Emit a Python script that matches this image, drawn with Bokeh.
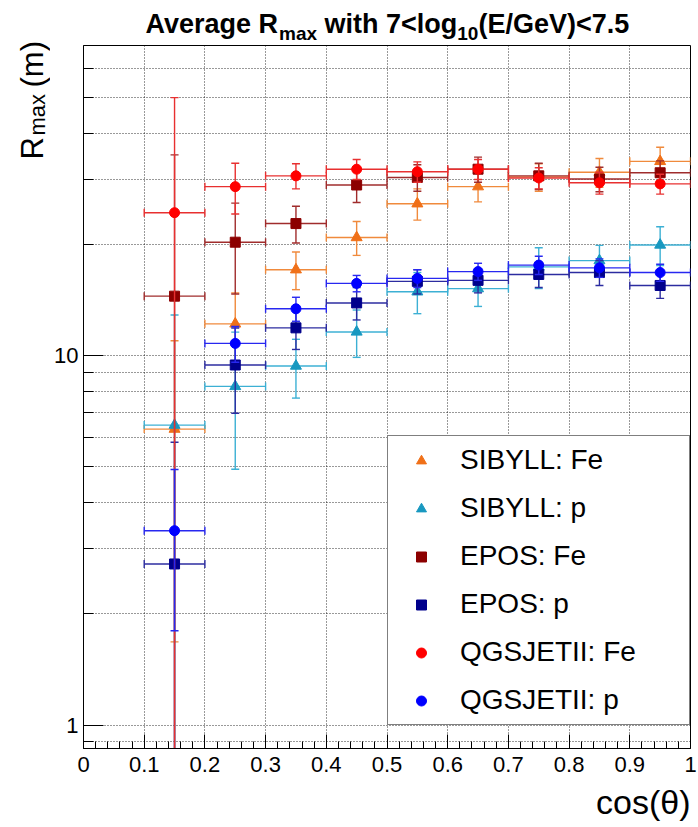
import math
import numpy as np
from bokeh.plotting import figure
from bokeh.models import ColumnDataSource, Range1d, FixedTicker, Legend, LegendItem, Label
from bokeh.layouts import column, row
from bokeh.embed import file_html
from bokeh.resources import INLINE

# ---------------- data ----------------
bin_lo = [0.1, 0.2, 0.3, 0.4, 0.5, 0.6, 0.7, 0.8, 0.9]
bin_hi = [0.2, 0.3, 0.4, 0.5, 0.6, 0.7, 0.8, 0.9, 1.0]
cos_theta = [0.15, 0.25, 0.35, 0.45, 0.55, 0.65, 0.75, 0.85, 0.95]

sibyll_fe = [6.33, 12.2, 17.1, 20.9, 25.8, 28.7, 30.5, 31.4, 33.6]
sibyll_fe_err = [4.65, 2.6, 2.0, 2.2, 2.5, 2.6, 2.6, 2.8, 3.1]

sibyll_p = [6.49, 8.26, 9.38, 11.6, 14.9, 15.2, 17.4, 18.1, 19.95]
sibyll_p_err = [6.4, 3.33, 1.7, 1.7, 1.9, 1.6, 2.2, 1.8, 2.4]

epos_fe = [14.5, 20.3, 22.8, 29.0, 30.4, 32.0, 30.7, 30.1, 31.3]
epos_fe_err = [20.5, 5.6, 2.6, 3.0, 2.5, 2.5, 2.5, 2.3, 2.4]

epos_p = [2.73, 9.44, 11.9, 13.9, 15.9, 16.0, 16.6, 16.8, 15.5]
epos_p_err = [3.1, 2.45, 1.5, 1.4, 1.2, 1.2, 1.3, 1.3, 1.2]

qgsjet_fe = [24.4, 28.7, 30.7, 32.0, 31.5, 32.0, 30.3, 29.4, 29.2]
qgsjet_fe_err = [25.6, 4.5, 2.4, 2.0, 2.0, 2.0, 2.0, 2.0, 1.8]

qgsjet_p = [3.36, 10.8, 13.4, 15.7, 16.2, 16.9, 17.6, 17.3, 16.8]
qgsjet_p_err = [1.56, 1.2, 1.0, 0.8, 0.9, 0.9, 1.0, 1.0, 0.9]

series_names = ["SIBYLL: Fe", "SIBYLL: p", "EPOS: Fe", "EPOS: p", "QGSJETII: Fe", "QGSJETII: p"]

x_tick_values = [0.0, 0.1, 0.2, 0.3, 0.4, 0.5, 0.6, 0.7, 0.8, 0.9, 1.0]
x_tick_labels = ["0", "0.1", "0.2", "0.3", "0.4", "0.5", "0.6", "0.7", "0.8", "0.9", "1"]
y_tick_values = [1, 10]
y_tick_labels = ["1", "10"]
y_minor_values = [0.9, 2, 3, 4, 5, 6, 7, 8, 9, 20, 30, 40, 50, 60]

# ---------------- styles ----------------
series = [
    (series_names[0], sibyll_fe, sibyll_fe_err, "triangle", 11, "#f07018", "#f08a3c"),
    (series_names[1], sibyll_p, sibyll_p_err, "triangle", 11, "#1898c0", "#3cb0d4"),
    (series_names[2], epos_fe, epos_fe_err, "square", 10, "#8c0000", "#a02c2c"),
    (series_names[3], epos_p, epos_p_err, "square", 10, "#00008c", "#2c2ca0"),
    (series_names[4], qgsjet_fe, qgsjet_fe_err, "circle", 10, "#ff0000", "#e83030"),
    (series_names[5], qgsjet_p, qgsjet_p_err, "circle", 10, "#0000ff", "#2828f0"),
]

FONT = "Liberation Sans"
W, H = 698, 827
LEFT_W = 50         # y-label strip (full height)
TOP_H = 45          # title strip
MID_H = 736         # main plot (frame 703 + bottom axis 33)
BOT_H = H - TOP_H - MID_H
RW = W - LEFT_W


def dy(fs):
    # empirical baseline correction of Label text (text-frame "down" shift)
    return round(0.31 * fs)


def text_panel(w, h):
    f = figure(width=w, height=h, output_backend="svg", toolbar_location=None,
               x_range=Range1d(0, w), y_range=Range1d(0, h), title=None,
               x_axis_location=None, y_axis_location=None, min_border=0, frame_align=False)
    f.grid.visible = False
    f.outline_line_color = None
    f.background_fill_color = "white"
    f.border_fill_color = "white"
    return f


# ---------------- main plot ----------------
p = figure(width=RW, height=MID_H, output_backend="svg", toolbar_location=None,
           y_axis_type="log", x_range=Range1d(0, 1), y_range=Range1d(0.864, 69.2), title=None,
           min_border_left=33, min_border_right=8, min_border_top=0, min_border_bottom=33,
           frame_align=False)
p.background_fill_color = "white"
p.border_fill_color = "white"
p.outline_line_color = "black"
p.outline_line_width = 1

for g in (p.xgrid, p.ygrid):
    g.grid_line_color = "black"
    g.grid_line_dash = "1 2"
    g.grid_line_alpha = 0.8
    g.grid_line_width = 1
p.ygrid.minor_grid_line_color = "black"
p.ygrid.minor_grid_line_dash = "1 2"
p.ygrid.minor_grid_line_alpha = 0.8

p.xaxis.ticker = FixedTicker(ticks=x_tick_values,
                             minor_ticks=[round(i * 0.02, 2) for i in range(51) if i % 5])
p.xaxis.major_label_overrides = dict(zip(x_tick_values, x_tick_labels))
p.yaxis.ticker = FixedTicker(ticks=y_tick_values, minor_ticks=y_minor_values)
p.yaxis.major_label_overrides = dict(zip(y_tick_values, y_tick_labels))
for ax in (p.xaxis, p.yaxis):
    ax.axis_line_color = "black"
    ax.major_tick_line_color = "black"
    ax.minor_tick_line_color = "black"
    ax.major_tick_out = 0
    ax.minor_tick_out = 0
    ax.major_label_text_font = FONT
    ax.major_label_text_font_size = "22px"
    ax.major_label_text_color = "black"
p.xaxis.major_tick_in = 14
p.xaxis.minor_tick_in = 7
p.yaxis.major_tick_in = 20
p.yaxis.minor_tick_in = 10
p.xaxis.major_label_standoff = 8
p.yaxis.major_label_standoff = 5

items = []
for name, vals, errs, marker, msize, color, bar in series:
    v = np.array(vals, dtype=float)
    e = np.array(errs, dtype=float)
    lo = np.where(v - e > 0, v - e, 1e-3)
    hi = v + e
    src = ColumnDataSource(dict(x=cos_theta, xl=bin_lo, xh=bin_hi, y=v, yl=lo, yh=hi))
    p.segment(x0="xl", x1="xh", y0="y", y1="y", source=src, line_color=bar, line_width=1.4)
    p.segment(x0="x", x1="x", y0="yl", y1="yh", source=src, line_color=bar, line_width=1.4)
    p.scatter(x="xl", y="y", source=src, marker="dash", angle=math.pi / 2, size=8,
              line_color=bar, line_width=1.4)
    p.scatter(x="xh", y="y", source=src, marker="dash", angle=math.pi / 2, size=8,
              line_color=bar, line_width=1.4)
    p.scatter(x="x", y="yl", source=src, marker="dash", size=8, line_color=bar, line_width=1.4)
    p.scatter(x="x", y="yh", source=src, marker="dash", size=8, line_color=bar, line_width=1.4)
    r = p.scatter(x="x", y="y", source=src, marker=marker, size=msize,
                  fill_color=color, line_color=color)
    items.append(LegendItem(label=name, renderers=[r]))

legend = Legend(items=items, location=(304, 23), orientation="vertical",
                border_line_color="black", border_line_width=1,
                background_fill_color="white", background_fill_alpha=1.0,
                label_text_font=FONT, label_text_font_size="28px", label_text_color="black",
                glyph_width=50, glyph_height=25, label_height=32, label_width=221,
                label_standoff=14, spacing=16, padding=8, margin=0)
p.add_layout(legend, "center")

# ---------------- title strip (page coords -> strip coords) ----------------
top = text_panel(RW, TOP_H)
title_parts = [
    ("Average R", 145, 31, 27),
    ("max", 278.5, 39, 19),
    ("with 7<log", 324.0, 31, 27),
    ("10", 456.8, 39, 19),
    ("(E/GeV)<7.5", 477.9, 31, 27),
]
for txt, px, py, fs in title_parts:
    top.add_layout(Label(x=px - LEFT_W, y=TOP_H - py + dy(fs), text=txt,
                         text_font=FONT, text_font_style="bold", text_font_size=f"{fs}px",
                         text_color="black", text_align="left", text_baseline="alphabetic"))

# ---------------- y-label strip ----------------
left = text_panel(LEFT_W, H)
ylab_parts = [
    ("R", 42, 159, 31),
    ("max", 44, 135, 22),
    ("(m)", 42, 87, 31),
]
for txt, px, py, fs in ylab_parts:
    left.add_layout(Label(x=px - dy(fs), y=H - py, text=txt,
                          angle=math.pi / 2, text_font=FONT, text_font_size=f"{fs}px",
                          text_color="black", text_align="left", text_baseline="alphabetic"))

# ---------------- x-label strip ----------------
bottom = text_panel(RW, BOT_H)
bottom.add_layout(Label(x=690 - LEFT_W, y=H - 812 + dy(34), text="cos(θ)",
                        text_font=FONT, text_font_size="34px", text_color="black",
                        text_align="right", text_baseline="alphabetic"))

layout = row(left, column(top, p, bottom, spacing=0), spacing=0)
open("out.html", "w").write(file_html(layout, INLINE))
